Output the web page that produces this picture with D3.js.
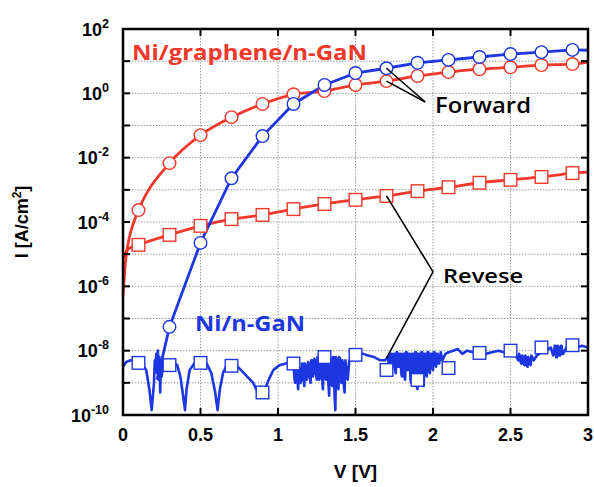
<!DOCTYPE html>
<html>
<head>
<meta charset="utf-8">
<script src="https://cdn.jsdelivr.net/npm/d3@7"></script>
<style>
  body { margin: 0; background: #fff; }
  svg { display: block; }
</style>
</head>
<body>
<div id="chart"></div>
<script>
// values are log10 of current density (A/cm2)
const vMarks = [0.1, 0.3, 0.5, 0.7, 0.9, 1.1, 1.3, 1.5, 1.7, 1.9, 2.1, 2.3, 2.5, 2.7, 2.9];

const grapheneFwd = [-3.63, -2.17, -1.30, -0.74, -0.33, -0.03, 0.07, 0.26, 0.38, 0.54, 0.66, 0.75, 0.81, 0.88, 0.91];
const grapheneFwdStart = [[0, -6.3], [0.015, -5.3], [0.04, -4.5], [0.07, -4.0]];
const grapheneFwdEnd = [[3.0, 0.97]];

const grapheneRev = [-4.71, -4.40, -4.12, -3.91, -3.78, -3.60, -3.44, -3.31, -3.19, -3.04, -2.92, -2.78, -2.69, -2.60, -2.48];
const grapheneRevStart = [[0.005, -5.1], [0.03, -4.85]];
const grapheneRevEnd = [[3.0, -2.45]];

// blue forward has no marker at 0.1 V (below range)
const niFwd = [null, -7.26, -4.65, -2.64, -1.33, -0.33, 0.26, 0.63, 0.78, 0.95, 1.04, 1.13, 1.22, 1.28, 1.35];
const niFwdStart = [[0.22, -8.9], [0.25, -8.3]];
const niFwdEnd = [[3.0, 1.34]];

const niRev = [-8.38, -8.45, -8.38, -8.47, -9.30, -8.40, -8.20, -8.13, -8.60, -8.91, -8.54, -8.07, -8.00, -7.90, -7.83];

// noisy reverse trace of Ni/n-GaN
const niRevTrace = [
  [0.00, -8.5], [0.02, -8.35], [0.05, -8.3], [0.08, -8.35], [0.12, -8.4], [0.15, -8.6], [0.17, -9.2], [0.185, -9.85],
  [0.20, -9.0], [0.205, -8.3], [0.21, -8.6], [0.215, -8.1], [0.22, -8.7], [0.225, -8.0], [0.23, -8.9], [0.235, -8.2],
  [0.24, -9.3], [0.245, -8.3], [0.25, -8.8], [0.26, -8.35], [0.28, -8.3], [0.32, -8.35], [0.35, -8.45], [0.37, -8.8],
  [0.385, -9.3], [0.40, -9.85], [0.41, -9.2], [0.43, -8.6], [0.46, -8.4], [0.50, -8.35], [0.54, -8.4], [0.57, -8.7],
  [0.595, -9.3], [0.61, -9.85], [0.625, -9.2], [0.645, -8.7], [0.67, -8.45], [0.72, -8.4], [0.76, -8.6], [0.80, -8.8],
  [0.84, -9.0], [0.87, -9.3], [0.89, -9.45], [0.91, -9.3], [0.94, -8.9], [0.97, -8.6], [1.01, -8.45], [1.05, -8.4],
  [1.08, -8.35], [1.10, -8.4], [1.105, -8.8], [1.11, -9.0], [1.115, -8.4], [1.12, -8.5], [1.125, -8.9], [1.13, -9.2],
  [1.135, -8.5], [1.14, -8.6], [1.145, -9.0], [1.15, -8.9], [1.155, -8.4], [1.16, -8.4], [1.165, -8.9], [1.17, -9.1],
  [1.175, -8.4], [1.18, -8.5], [1.185, -8.9], [1.19, -8.8], [1.195, -8.35], [1.20, -8.4], [1.205, -8.8], [1.21, -9.0],
  [1.215, -8.3], [1.22, -8.3], [1.225, -8.8], [1.23, -8.7], [1.235, -8.25], [1.24, -8.3], [1.245, -8.7], [1.25, -8.9],
  [1.255, -8.2], [1.26, -8.25], [1.265, -8.9], [1.27, -8.8], [1.275, -8.2], [1.28, -8.2], [1.285, -8.9], [1.29, -9.2],
  [1.295, -8.2], [1.30, -8.2], [1.305, -8.8], [1.31, -8.9], [1.315, -8.2], [1.32, -8.25], [1.325, -9.0], [1.33, -9.4],
  [1.335, -8.2], [1.34, -8.3], [1.345, -9.0], [1.35, -9.1], [1.355, -8.2], [1.36, -8.2], [1.365, -9.4], [1.37, -9.85],
  [1.375, -8.2], [1.38, -8.3], [1.385, -9.0], [1.39, -9.2], [1.395, -8.2], [1.40, -8.25], [1.405, -8.9], [1.41, -9.0],
  [1.415, -8.3], [1.42, -8.4], [1.425, -9.1], [1.43, -9.3], [1.435, -8.3], [1.44, -8.5], [1.445, -8.7], [1.45, -8.9],
  [1.46, -8.3], [1.48, -8.2], [1.52, -8.05], [1.55, -8.1], [1.58, -8.15], [1.62, -8.2], [1.66, -8.3], [1.69, -8.3],
  [1.71, -8.2], [1.715, -8.5], [1.72, -8.6], [1.725, -8.1], [1.73, -8.1], [1.735, -8.5], [1.74, -8.5], [1.745, -8.1],
  [1.75, -8.1], [1.755, -8.6], [1.76, -8.7], [1.765, -8.05], [1.77, -8.05], [1.775, -8.5], [1.78, -8.5], [1.785, -8.1],
  [1.79, -8.1], [1.795, -8.7], [1.80, -8.8], [1.805, -8.1], [1.81, -8.1], [1.815, -8.8], [1.82, -8.9], [1.825, -8.05],
  [1.83, -8.05], [1.835, -8.6], [1.84, -8.6], [1.845, -8.1], [1.85, -8.1], [1.855, -8.9], [1.86, -9.0], [1.865, -8.1],
  [1.87, -8.1], [1.875, -9.0], [1.88, -9.1], [1.885, -8.05], [1.89, -8.05], [1.895, -9.1], [1.90, -9.2], [1.905, -8.1],
  [1.91, -8.1], [1.915, -8.8], [1.92, -8.9], [1.925, -8.05], [1.93, -8.05], [1.935, -9.0], [1.94, -9.1], [1.945, -8.1],
  [1.95, -8.1], [1.955, -8.7], [1.96, -8.8], [1.965, -8.05], [1.97, -8.05], [1.975, -8.6], [1.98, -8.7], [1.985, -8.1],
  [1.99, -8.1], [1.995, -8.5], [2.00, -8.6], [2.005, -8.05], [2.01, -8.05], [2.015, -8.4], [2.02, -8.5], [2.025, -8.1],
  [2.03, -8.1], [2.035, -8.4], [2.04, -8.4], [2.05, -8.05], [2.06, -8.3], [2.08, -8.1], [2.10, -8.05], [2.13, -8.0],
  [2.16, -7.95], [2.19, -8.1], [2.22, -8.0], [2.26, -8.05], [2.30, -8.05], [2.34, -8.1], [2.38, -8.05], [2.42, -8.0],
  [2.46, -8.05], [2.50, -8.05], [2.53, -8.1], [2.55, -8.3], [2.555, -8.1], [2.56, -8.15], [2.565, -8.35], [2.57, -8.4],
  [2.575, -8.15], [2.58, -8.2], [2.585, -8.4], [2.59, -8.45], [2.595, -8.15], [2.60, -8.2], [2.605, -8.45], [2.61, -8.5],
  [2.615, -8.2], [2.62, -8.3], [2.625, -8.4], [2.63, -8.45], [2.635, -8.15], [2.64, -8.2], [2.65, -8.3], [2.67, -8.15],
  [2.70, -8.05], [2.73, -8.0], [2.76, -7.9], [2.775, -8.15], [2.78, -8.1], [2.785, -7.85], [2.79, -7.85], [2.795, -8.2],
  [2.80, -8.2], [2.805, -7.85], [2.81, -7.9], [2.815, -8.15], [2.82, -8.15], [2.825, -7.85], [2.83, -7.85], [2.835, -8.1],
  [2.84, -8.1], [2.86, -7.9], [2.88, -7.95], [2.90, -7.85], [2.93, -7.9], [2.96, -7.85], [3.00, -7.9]
];

const xTicks = [0, 0.5, 1, 1.5, 2, 2.5, 3];
const yLabelExps = [2, 0, -2, -4, -6, -8, -10];
const yGridExps = [-9, -8, -7, -6, -5, -4, -3, -2, -1, 0, 1];

const RED = "#f2382a";
const BLUE = "#1c36e2";

const width = 594, height = 487;
const margin = {left: 123, top: 29, right: 6, bottom: 72};
const plotW = width - margin.left - margin.right;
const plotH = height - margin.top - margin.bottom;

const svg = d3.select("#chart").append("svg")
  .attr("width", width)
  .attr("height", height);

const x = d3.scaleLinear().domain([0, 3]).range([margin.left, margin.left + plotW]);
const y = d3.scaleLog().domain([1e-10, 1e2]).range([margin.top + plotH, margin.top]);
const ye = e => y(Math.pow(10, e));

// grid
const grid = svg.append("g").attr("stroke", "#9a9a9a").attr("stroke-width", 1).attr("stroke-dasharray", "1.5,1.5");
grid.selectAll(".gx").data(xTicks.slice(1, -1)).enter().append("line")
  .attr("x1", d => x(d)).attr("x2", d => x(d))
  .attr("y1", margin.top).attr("y2", margin.top + plotH);
grid.selectAll(".gy").data(yGridExps).enter().append("line")
  .attr("x1", margin.left).attr("x2", margin.left + plotW)
  .attr("y1", d => ye(d)).attr("y2", d => ye(d));

const line = d3.line().x(d => x(d[0])).y(d => ye(d[1]));
const smooth = d3.line().x(d => x(d[0])).y(d => ye(d[1])).curve(d3.curveMonotoneX);

const pairs = vals => vMarks.map((v, i) => [v, vals[i]]).filter(d => d[1] !== null);

const plot = svg.append("g");

// noisy reverse trace
plot.append("path").datum(niRevTrace)
  .attr("d", line).attr("fill", "none").attr("stroke", BLUE).attr("stroke-width", 2.6)
  .attr("stroke-linejoin", "round");

plot.append("path").datum(grapheneRevStart.concat(pairs(grapheneRev), grapheneRevEnd))
  .attr("d", smooth).attr("fill", "none").attr("stroke", RED).attr("stroke-width", 2.8);

plot.append("path").datum(grapheneFwdStart.concat(pairs(grapheneFwd), grapheneFwdEnd))
  .attr("d", smooth).attr("fill", "none").attr("stroke", RED).attr("stroke-width", 2.8);

plot.append("path").datum(niFwdStart.concat(pairs(niFwd), niFwdEnd))
  .attr("d", line).attr("fill", "none").attr("stroke", BLUE).attr("stroke-width", 2.8);

// markers
const circles = (vals, color) => plot.append("g").selectAll("circle").data(pairs(vals)).enter().append("circle")
  .attr("cx", d => x(d[0])).attr("cy", d => ye(d[1])).attr("r", 6.3)
  .attr("fill", "#fff").attr("stroke", color).attr("stroke-width", 1.4);
const squares = (vals, color) => plot.append("g").selectAll("rect").data(pairs(vals)).enter().append("rect")
  .attr("x", d => x(d[0]) - 6.3).attr("y", d => ye(d[1]) - 6.3).attr("width", 12.6).attr("height", 12.6)
  .attr("fill", "#fff").attr("stroke", color).attr("stroke-width", 1.4);

squares(niRev, BLUE);
squares(grapheneRev, RED);
circles(grapheneFwd, RED);
circles(niFwd, BLUE);

// frame and inner ticks
const frame = svg.append("g").attr("stroke", "#000");
const tl = 7;
frame.selectAll(".tb").data(xTicks.slice(1, -1)).enter().append("line")
  .attr("x1", d => x(d)).attr("x2", d => x(d))
  .attr("y1", margin.top + plotH).attr("y2", margin.top + plotH - tl).attr("stroke-width", 2);
frame.selectAll(".tt").data(xTicks.slice(1, -1)).enter().append("line")
  .attr("x1", d => x(d)).attr("x2", d => x(d))
  .attr("y1", margin.top).attr("y2", margin.top + tl).attr("stroke-width", 2);
frame.selectAll(".tl").data(yGridExps).enter().append("line")
  .attr("x1", margin.left).attr("x2", margin.left + tl)
  .attr("y1", d => ye(d)).attr("y2", d => ye(d)).attr("stroke-width", 2);
frame.selectAll(".tr").data(yGridExps).enter().append("line")
  .attr("x1", margin.left + plotW).attr("x2", margin.left + plotW - tl)
  .attr("y1", d => ye(d)).attr("y2", d => ye(d)).attr("stroke-width", 2);
frame.append("rect")
  .attr("x", margin.left).attr("y", margin.top).attr("width", plotW).attr("height", plotH)
  .attr("fill", "none").attr("stroke-width", 2.5);

// tick labels
const tickFont = "'Liberation Sans', Arial, sans-serif";
svg.append("g").selectAll("text").data(xTicks).enter().append("text")
  .attr("x", d => x(d)).attr("y", margin.top + plotH + 26)
  .attr("text-anchor", "middle")
  .attr("font-family", tickFont).attr("font-weight", "bold").attr("font-size", 18)
  .text(d => d);

const yl = svg.append("g").selectAll("text").data(yLabelExps).enter().append("text")
  .attr("x", margin.left - 14).attr("y", d => ye(d) + 6.5)
  .attr("text-anchor", "end")
  .attr("font-family", tickFont).attr("font-weight", "bold").attr("font-size", 18);
yl.append("tspan").text("10");
yl.append("tspan").attr("dy", -8).attr("font-size", 12.5).text(d => d);

// axis titles
svg.append("text")
  .attr("x", x(1.5)).attr("y", 478)
  .attr("text-anchor", "middle")
  .attr("font-family", tickFont).attr("font-weight", "bold").attr("font-size", 19)
  .text("V [V]");

const yt = svg.append("text")
  .attr("transform", `translate(28,${margin.top + plotH / 2}) rotate(-90)`)
  .attr("text-anchor", "middle")
  .attr("font-family", tickFont).attr("font-weight", "bold").attr("font-size", 18);
yt.append("tspan").text("I [A/cm");
yt.append("tspan").attr("dy", -7).attr("font-size", 12).text("2");
yt.append("tspan").attr("dy", 7).text("]");

// annotations
const noteFont = "'Open Sans', Lato, sans-serif";
const ann = svg.append("g").attr("stroke", "#000").attr("stroke-width", 1.6).attr("fill", "none");
const fwdTip = [x(1.95), ye(-0.27)];
ann.append("line").attr("x1", x(1.7)).attr("y1", ye(niFwd[8])).attr("x2", fwdTip[0]).attr("y2", fwdTip[1]);
ann.append("line").attr("x1", x(1.7)).attr("y1", ye(grapheneFwd[8])).attr("x2", fwdTip[0]).attr("y2", fwdTip[1]);
ann.append("polyline").attr("points", [
  [x(1.7), ye(grapheneRev[8])],
  [x(2.0), ye(-5.55)],
  [x(1.7), ye(-8.23)]
].map(p => p.join(",")).join(" "));

svg.append("text").attr("x", 435).attr("y", 113)
  .attr("font-family", noteFont).attr("font-weight", 600).attr("font-size", 22).attr("fill", "#000")
  .attr("textLength", 96).attr("lengthAdjust", "spacingAndGlyphs")
  .text("Forward");
svg.append("text").attr("x", 443).attr("y", 283)
  .attr("font-family", noteFont).attr("font-weight", 600).attr("font-size", 20).attr("fill", "#000")
  .attr("textLength", 80).attr("lengthAdjust", "spacingAndGlyphs")
  .text("Revese");
svg.append("text").attr("x", 132).attr("y", 60)
  .attr("font-family", noteFont).attr("font-weight", "bold").attr("font-size", 22).attr("fill", RED)
  .attr("textLength", 235).attr("lengthAdjust", "spacingAndGlyphs")
  .text("Ni/graphene/n-GaN");
svg.append("text").attr("x", 195).attr("y", 331)
  .attr("font-family", noteFont).attr("font-weight", "bold").attr("font-size", 21).attr("fill", BLUE)
  .attr("textLength", 110).attr("lengthAdjust", "spacingAndGlyphs")
  .text("Ni/n-GaN");
</script>
</body>
</html>
